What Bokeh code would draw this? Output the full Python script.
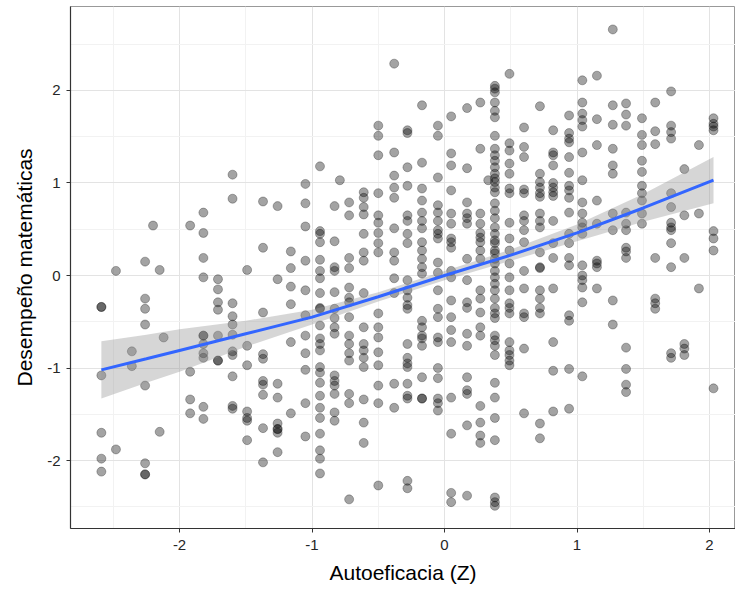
from bokeh.plotting import figure
from bokeh.models import FixedTicker
from bokeh.embed import file_html
from bokeh.resources import INLINE

# Autoeficacia (Z) values
autoeficacia = [
    -2.59, -2.59, -2.59, -2.59, -2.59, -2.59,
    -2.48,
    -2.48,
    -2.36, -2.36,
    -2.26, -2.26, -2.26, -2.26, -2.26, -2.26, -2.26, -2.26,
    -2.20,
    -2.15, -2.15,
    -2.12,
    -1.92, -1.92, -1.92, -1.92,
    -1.82, -1.82, -1.82, -1.82, -1.82, -1.82, -1.82, -1.82, -1.82, -1.82, -1.82,
    -1.71, -1.71, -1.71, -1.71, -1.71, -1.71, -1.71,
    -1.60, -1.60, -1.60, -1.60, -1.60, -1.60, -1.60, -1.60, -1.60, -1.60, -1.60,
    -1.49, -1.49, -1.49, -1.49, -1.49, -1.49, -1.49,
    -1.37, -1.37, -1.37, -1.37, -1.37, -1.37, -1.37, -1.37, -1.37, -1.37,
    -1.26, -1.26, -1.26, -1.26, -1.26, -1.26, -1.26, -1.26, -1.26,
    -1.16, -1.16, -1.16, -1.16, -1.16, -1.16,
    -1.05, -1.05, -1.05, -1.05, -1.05, -1.05, -1.05, -1.05, -1.05, -1.05, -1.05,
    -0.94, -0.94, -0.94, -0.94, -0.94, -0.94, -0.94, -0.94, -0.94, -0.94,
    -0.94, -0.94, -0.94, -0.94, -0.94, -0.94, -0.94, -0.94, -0.94, -0.94,
    -0.94, -0.94, -0.94, -0.94,
    -0.83, -0.83, -0.83, -0.83, -0.83, -0.83, -0.83, -0.83, -0.83, -0.83,
    -0.83, -0.83, -0.83, -0.83, -0.83,
    -0.79,
    -0.72, -0.72, -0.72, -0.72, -0.72, -0.72, -0.72, -0.72, -0.72, -0.72,
    -0.72, -0.72, -0.72, -0.72, -0.72,
    -0.61, -0.61, -0.61, -0.61, -0.61, -0.61, -0.61, -0.61, -0.61, -0.61,
    -0.61, -0.61, -0.61, -0.61, -0.61, -0.61,
    -0.50, -0.50, -0.50, -0.50, -0.50, -0.50, -0.50, -0.50, -0.50, -0.50,
    -0.50, -0.50, -0.50, -0.50, -0.50, -0.50, -0.50,
    -0.38, -0.38, -0.38, -0.38, -0.38, -0.38, -0.38, -0.38, -0.38, -0.38,
    -0.38, -0.38,
    -0.28, -0.28, -0.28, -0.28, -0.28, -0.28, -0.28, -0.28, -0.28, -0.28,
    -0.28, -0.28, -0.28, -0.28, -0.28, -0.28, -0.28, -0.28, -0.28, -0.28,
    -0.28, -0.28,
    -0.17, -0.17, -0.17, -0.17, -0.17, -0.17, -0.17, -0.17, -0.17, -0.17,
    -0.17, -0.17, -0.17, -0.17, -0.17, -0.17, -0.17, -0.17, -0.17, -0.17,
    -0.05, -0.05, -0.05, -0.05, -0.05, -0.05, -0.05, -0.05, -0.05, -0.05,
    -0.05, -0.05, -0.05, -0.05, -0.05, -0.05, -0.05, -0.05, -0.05, -0.05,
    -0.05,
    0.05, 0.05, 0.05, 0.05, 0.05, 0.05, 0.05, 0.05, 0.05, 0.05,
    0.05, 0.05, 0.05, 0.05, 0.05, 0.05, 0.05, 0.05, 0.05,
    0.17, 0.17, 0.17, 0.17, 0.17, 0.17, 0.17, 0.17, 0.17, 0.17,
    0.17, 0.17, 0.17, 0.17, 0.17, 0.17, 0.17,
    0.27, 0.27, 0.27, 0.27, 0.27, 0.27, 0.27, 0.27, 0.27, 0.27,
    0.27, 0.27, 0.27, 0.27, 0.27, 0.27, 0.27, 0.27,
    0.33,
    0.38, 0.38, 0.38, 0.38, 0.38, 0.38, 0.38, 0.38, 0.38, 0.38,
    0.38, 0.38, 0.38, 0.38, 0.38, 0.38, 0.38, 0.38, 0.38, 0.38,
    0.38, 0.38, 0.38, 0.38, 0.38, 0.38, 0.38, 0.38, 0.38, 0.38,
    0.38, 0.38, 0.38, 0.38, 0.38, 0.38, 0.38, 0.38, 0.38, 0.38,
    0.38, 0.38, 0.38, 0.38, 0.38, 0.38,
    0.49, 0.49, 0.49, 0.49, 0.49, 0.49, 0.49, 0.49, 0.49, 0.49,
    0.49, 0.49, 0.49, 0.49, 0.49, 0.49, 0.49, 0.49, 0.49, 0.49,
    0.49,
    0.60, 0.60, 0.60, 0.60, 0.60, 0.60, 0.60, 0.60, 0.60, 0.60,
    0.60, 0.60, 0.60, 0.60, 0.60,
    0.72, 0.72, 0.72, 0.72, 0.72, 0.72, 0.72, 0.72, 0.72, 0.72,
    0.72, 0.72, 0.72, 0.72, 0.72, 0.72, 0.72, 0.72,
    0.82, 0.82, 0.82, 0.82, 0.82, 0.82, 0.82, 0.82, 0.82, 0.82,
    0.82, 0.82, 0.82, 0.82, 0.82,
    0.94, 0.94, 0.94, 0.94, 0.94, 0.94, 0.94, 0.94, 0.94, 0.94,
    0.94, 0.94, 0.94, 0.94, 0.94, 0.94, 0.94, 0.94,
    1.04, 1.04, 1.04, 1.04, 1.04, 1.04, 1.04, 1.04, 1.04, 1.04,
    1.04, 1.04, 1.04, 1.04, 1.04, 1.04, 1.04, 1.04,
    1.15, 1.15, 1.15, 1.15, 1.15, 1.15, 1.15, 1.15, 1.15,
    1.27, 1.27, 1.27, 1.27, 1.27, 1.27, 1.27, 1.27, 1.27, 1.27,
    1.37, 1.37, 1.37, 1.37, 1.37, 1.37, 1.37, 1.37, 1.37, 1.37,
    1.37, 1.37, 1.37,
    1.49, 1.49, 1.49, 1.49, 1.49, 1.49, 1.49, 1.49, 1.49, 1.49,
    1.59, 1.59, 1.59, 1.59, 1.59, 1.59, 1.59,
    1.71, 1.71, 1.71, 1.71, 1.71, 1.71, 1.71, 1.71, 1.71, 1.71,
    1.71, 1.71, 1.71,
    1.81, 1.81, 1.81, 1.81, 1.81, 1.81,
    1.92, 1.92, 1.92,
    2.03, 2.03, 2.03, 2.03, 2.03, 2.03, 2.03, 2.03,
]

# Desempeño matemáticas values, same order as above
desempeno = [
    -0.34, -0.34, -1.08, -1.70, -1.98, -2.12,
    0.05,
    -1.88,
    -0.82, -0.98,
    0.15, -0.25, -0.36, -0.53, -1.19, -2.03, -2.15, -2.15,
    0.54,
    0.06, -1.69,
    -0.67,
    0.54, -1.04, -1.34, -1.49,
    0.68, 0.46, 0.19, -0.02, -0.65, -0.65, -0.74, -0.84, -0.89, -1.42, -1.55,
    -0.04, -0.15, -0.29, -0.37, -0.65, -0.92, -0.92,
    1.09, 0.83, -0.30, -0.44, -0.53, -0.64, -0.82, -0.86, -1.09, -1.41, -1.44,
    0.06, -0.76, -0.97, -1.47, -1.54, -1.57, -1.78,
    0.80, 0.30, -0.40, -0.85, -0.90, -1.14, -1.18, -1.29, -1.65, -2.02,
    0.75, -0.04, -1.17, -1.32, -1.60, -1.66, -1.66, -1.70, -1.91,
    0.26, 0.08, -0.12, -0.31, -0.72, -1.49,
    0.99, 0.78, 0.53, 0.16, -0.16, -0.43, -0.65, -0.84, -1.02, -1.38, -1.74,
    1.18, 0.48, 0.45, 0.36, 0.17, 0.05, -0.03, -0.19, -0.35, -0.36,
    -0.54, -0.68, -0.74, -0.81, -0.99, -1.05, -1.16, -1.30, -1.43, -1.54,
    -1.71, -1.89, -1.98, -2.14,
    0.75, 0.37, 0.09, 0.05, -0.18, -0.36, -0.46, -0.56, -0.63, -1.08,
    -1.14, -1.19, -1.28, -1.48, -1.57,
    1.03,
    0.79, 0.65, 0.19, 0.08, -0.13, -0.24, -0.29, -0.45, -0.65, -0.74,
    -0.84, -0.92, -1.28, -1.38, -2.42,
    0.90, 0.84, 0.74, 0.66, 0.45, 0.25, 0.16, -0.19, -0.56, -0.74,
    -0.81, -0.89, -0.99, -1.34, -1.59, -1.81,
    1.62, 1.51, 1.30, 0.89, 0.65, 0.57, 0.46, 0.35, 0.25, -0.41,
    -0.56, -0.67, -0.83, -0.97, -1.19, -1.38, -2.27,
    2.29, 1.33, 1.08, 0.95, 0.84, 0.51, 0.25, 0.16, -0.03, -0.19,
    -1.17, -1.43,
    1.57, 1.54, 1.17, 0.97, 0.65, 0.59, 0.45, 0.35, -0.05, -0.16,
    -0.24, -0.32, -0.36, -0.74, -0.89, -0.95, -0.99, -1.17, -1.30, -1.33,
    -2.22, -2.30,
    1.84, 1.22, 0.94, 0.81, 0.68, 0.59, 0.51, 0.36, 0.27, 0.18,
    0.09, 0.02, -0.49, -0.56, -0.65, -0.68, -0.76, -1.10, -1.33, -1.33,
    1.62, 1.51, 1.06, 0.76, 0.68, 0.59, 0.49, 0.45, 0.40, 0.14,
    0.03, -0.16, -0.36, -0.45, -0.67, -0.72, -1.00, -1.11, -1.33, -1.38,
    -1.46,
    1.72, 1.32, 1.19, 0.92, 0.67, 0.56, 0.40, 0.36, 0.30, 0.05,
    -0.02, -0.27, -0.45, -0.59, -0.72, -1.32, -1.71, -2.35, -2.45,
    1.81, 1.16, 0.79, 0.67, 0.62, 0.56, 0.18, -0.05, -0.29, -0.35,
    -0.63, -0.76, -1.10, -1.24, -1.28, -1.62, -2.38,
    1.87, 1.37, 0.67, 0.56, 0.46, 0.41, 0.36, 0.27, 0.18, -0.16,
    -0.25, -0.40, -0.56, -0.65, -1.41, -1.59, -1.73, -1.81,
    1.03,
    2.05, 2.02, 1.98, 1.87, 1.78, 1.71, 1.51, 1.37, 1.30, 1.24,
    1.17, 1.10, 1.05, 1.01, 0.95, 0.90, 0.78, 0.70, 0.62, 0.52,
    0.45, 0.38, 0.35, 0.27, 0.24, 0.18, 0.13, 0.05, -0.02, -0.09,
    -0.16, -0.25, -0.35, -0.41, -0.46, -0.65, -0.70, -0.76, -0.86, -1.16,
    -1.32, -1.54, -1.78, -2.40, -2.45, -2.49,
    2.18, 1.43, 1.35, 1.21, 1.10, 0.94, 0.89, 0.57, 0.40, 0.27,
    0.13, -0.02, -0.16, -0.30, -0.35, -0.41, -0.72, -0.81, -0.86, -0.92,
    -0.97,
    1.60, 1.39, 1.28, 0.93, 0.89, 0.65, 0.59, 0.49, 0.36, 0.05,
    -0.14, -0.41, -0.45, -0.79, -1.49,
    1.83, 1.10, 1.01, 0.95, 0.89, 0.85, 0.67, 0.59, 0.52, 0.25,
    0.09, 0.08, -0.16, -0.25, -0.35, -0.41, -1.60, -1.76,
    1.57, 1.33, 1.30, 1.19, 1.00, 0.95, 0.90, 0.86, 0.59, 0.35,
    0.19, -0.14, -0.72, -1.03, -1.47,
    1.73, 1.54, 1.48, 1.44, 1.28, 1.11, 0.97, 0.92, 0.84, 0.68,
    0.45, 0.35, 0.19, 0.11, -0.43, -0.49, -1.01, -1.44,
    2.11, 1.87, 1.75, 1.68, 1.61, 1.33, 1.03, 0.79, 0.67, 0.57,
    0.52, 0.45, 0.11, 0.00, -0.05, -0.13, -0.29, -1.09,
    2.16, 1.69, 1.41, 0.81, 0.56, 0.16, 0.13, 0.09, -0.14,
    2.66, 1.84, 1.63, 1.37, 1.19, 1.10, 0.67, 0.49, -0.27, -0.53,
    1.86, 1.74, 1.62, 0.68, 0.56, 0.49, 0.30, 0.26, 0.19, -0.78,
    -1.01, -1.18, -1.26,
    1.70, 1.52, 1.41, 1.24, 1.12, 0.97, 0.89, 0.81, 0.67, 0.56,
    1.87, 1.56, 1.42, 0.19, -0.25, -0.30, -0.36,
    1.99, 1.62, 1.55, 1.48, 0.89, 0.74, 0.57, 0.52, 0.49, 0.35,
    0.09, -0.84, -0.89,
    1.15, 0.65, 0.19, -0.74, -0.79, -0.86,
    1.41, 0.67, -0.14,
    1.70, 1.64, 1.61, 1.57, 0.48, 0.40, 0.27, -1.22,
]

# Smooth (loess-like) curve and its standard-error half width
suav_x = [-2.59, -2.25, -2.0, -1.5, -1.0, -0.5, 0.0, 0.5, 1.0, 1.5, 2.03]
suav_y = [-1.02, -0.90, -0.81, -0.63, -0.45, -0.23, 0.0, 0.22, 0.46, 0.73, 1.03]
suav_se = [0.31, 0.26, 0.23, 0.14, 0.08, 0.05, 0.05, 0.06, 0.09, 0.15, 0.25]

x_ticks = [-2, -1, 0, 1, 2]
x_tick_labels = ["-2", "-1", "0", "1", "2"]
y_ticks = [-2, -1, 0, 1, 2]
y_tick_labels = ["-2", "-1", "0", "1", "2"]
x_minor = [-2.5, -1.5, -0.5, 0.5, 1.5]
y_minor = [-2.5, -1.5, -0.5, 0.5, 1.5, 2.5]

assert len(autoeficacia) == len(desempeno)

p = figure(width=735, height=596, output_backend="svg", toolbar_location=None,
           x_range=(-2.823, 2.196), y_range=(-2.735, 2.908),
           min_border_left=70, min_border_right=0, min_border_top=6,
           min_border_bottom=68)

p.background_fill_color = "white"
p.border_fill_color = "white"
p.outline_line_color = "#999999"

# grid
p.xgrid.ticker = FixedTicker(ticks=x_ticks, minor_ticks=x_minor)
p.ygrid.ticker = FixedTicker(ticks=y_ticks, minor_ticks=y_minor)
for g in (p.xgrid, p.ygrid):
    g.grid_line_color = "#e3e3e3"
    g.grid_line_width = 1
    g.minor_grid_line_color = "#f2f2f2"
    g.minor_grid_line_width = 1

# axes
p.xaxis.ticker = FixedTicker(ticks=x_ticks)
p.yaxis.ticker = FixedTicker(ticks=y_ticks)
p.xaxis.major_label_overrides = dict(zip(x_ticks, x_tick_labels))
p.yaxis.major_label_overrides = dict(zip(y_ticks, y_tick_labels))
for ax in (p.xaxis, p.yaxis):
    ax.axis_line_color = "#333333"
    ax.axis_line_width = 1.2
    ax.major_tick_line_color = "#333333"
    ax.major_tick_out = 4
    ax.major_tick_in = 0
    ax.minor_tick_line_color = None
    ax.major_label_text_font = "Liberation Sans"
    ax.major_label_text_font_size = "15px"
    ax.major_label_text_color = "#262626"
    ax.axis_label_text_font = "Liberation Sans"
    ax.axis_label_text_font_size = "21px"
    ax.axis_label_text_font_style = "normal"
    ax.axis_label_text_color = "black"

p.xaxis.major_label_standoff = 7
p.yaxis.major_label_standoff = 6
p.xaxis.axis_label = "Autoeficacia (Z)"
p.yaxis.axis_label = "Desempeño matemáticas"
p.xaxis.axis_label_standoff = 8
p.yaxis.axis_label_standoff = 8

# points
p.scatter(autoeficacia, desempeno, size=9, fill_color="black", fill_alpha=0.36,
          line_color="black", line_alpha=0.35, line_width=0.8)

# confidence band and smooth line
lower = [m - s for m, s in zip(suav_y, suav_se)]
upper = [m + s for m, s in zip(suav_y, suav_se)]
p.varea(x=suav_x, y1=lower, y2=upper, fill_color="#999999", fill_alpha=0.4)
p.line(suav_x, suav_y, line_color="#3366FF", line_width=3)

open("out.html", "w").write(file_html(p, INLINE))
